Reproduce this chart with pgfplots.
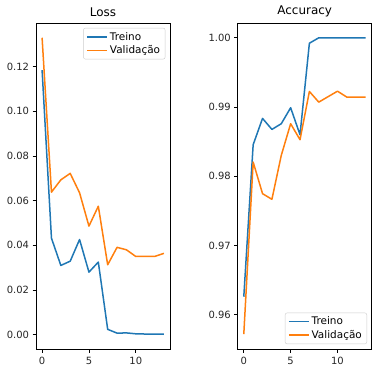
\documentclass[border=0pt]{standalone}
\usepackage{fontspec}
\setmainfont{DejaVu Sans}
\usepackage{pgfplots}
\pgfplotsset{compat=1.18}
\definecolor{tabblue}{HTML}{1F77B4}
\definecolor{taborange}{HTML}{FF7F0E}
\pgfplotsset{
  mpl/.style={
    scale only axis, width=134bp, height=326bp,
    axis line style={line width=0.8bp, black},
    tick style={line width=0.8bp, black},
    tick align=outside, major tick length=3.5bp,
    xtick pos=bottom, ytick pos=left,
    tick label style={font=\fontsize{10}{12}\selectfont, text=black!85},
    /pgf/number format/assume math mode=true,
    title style={font=\fontsize{12}{14}\selectfont, yshift=-3bp},
    xmin=-0.65, xmax=13.65, xtick={0,5,10},
    xticklabel style={yshift=-1bp},
    legend cell align=left,
    legend style={font=\fontsize{10.5}{13}\selectfont, draw=black!20, rounded corners=2bp, inner xsep=3bp, inner ysep=2bp, row sep=0bp},
    legend image code/.code={\draw[#1, line width=1.5bp] (0bp,0bp) -- (20bp,0bp);},
  }
}
\begin{document}
\begin{tikzpicture}
\useasboundingbox (-36bp,-24bp) rectangle (345bp,349bp);
\begin{axis}[mpl, at={(0,0)}, anchor=south west, title={Loss},
  ymin=-0.0064, ymax=0.1395, ytick={0,0.02,...,0.121},
  yticklabel style={/pgf/number format/fixed, /pgf/number format/fixed zerofill, /pgf/number format/precision=2},
  legend style={at={(0.965,0.985)}, anchor=north east}]
\addplot[tabblue, line width=1.5bp, line join=round] coordinates {(0,0.1184)(1,0.0432)(2,0.0310)(3,0.0329)(4,0.0426)(5,0.0280)(6,0.0325)(7,0.0024)(8,0.0007)(9,0.0008)(10,0.0004)(11,0.0003)(12,0.0003)(13,0.0002)};
\addplot[taborange, line width=1.5bp, line join=round] coordinates {(0,0.1329)(1,0.0638)(2,0.0693)(3,0.0722)(4,0.0635)(5,0.0486)(6,0.0575)(7,0.0313)(8,0.0391)(9,0.0380)(10,0.0350)(11,0.0350)(12,0.0350)(13,0.0364)};
\legend{Treino, Validação}
\end{axis}
\begin{axis}[mpl, at={(201.7bp,0)}, anchor=south west, title={Accuracy},
  ymin=0.95505, ymax=1.00214, ytick={0.96,0.97,0.98,0.99,1.00},
  yticklabel style={/pgf/number format/fixed, /pgf/number format/fixed zerofill, /pgf/number format/precision=2},
  legend style={at={(0.965,0.015)}, anchor=south east}]
\addplot[tabblue, line width=1.5bp, line join=round] coordinates {(0,0.9626)(1,0.98456)(2,0.98836)(3,0.98677)(4,0.98759)(5,0.98990)(6,0.98600)(7,0.99922)(8,1.0)(9,1.0)(10,1.0)(11,1.0)(12,1.0)(13,1.0)};
\addplot[taborange, line width=1.5bp, line join=round] coordinates {(0,0.95719)(1,0.98205)(2,0.97749)(3,0.97667)(4,0.98302)(5,0.98759)(6,0.98528)(7,0.99225)(8,0.99071)(9,0.99150)(10,0.99229)(11,0.99143)(12,0.99143)(13,0.99143)};
\legend{Treino, Validação}
\end{axis}
\end{tikzpicture}
\end{document}
